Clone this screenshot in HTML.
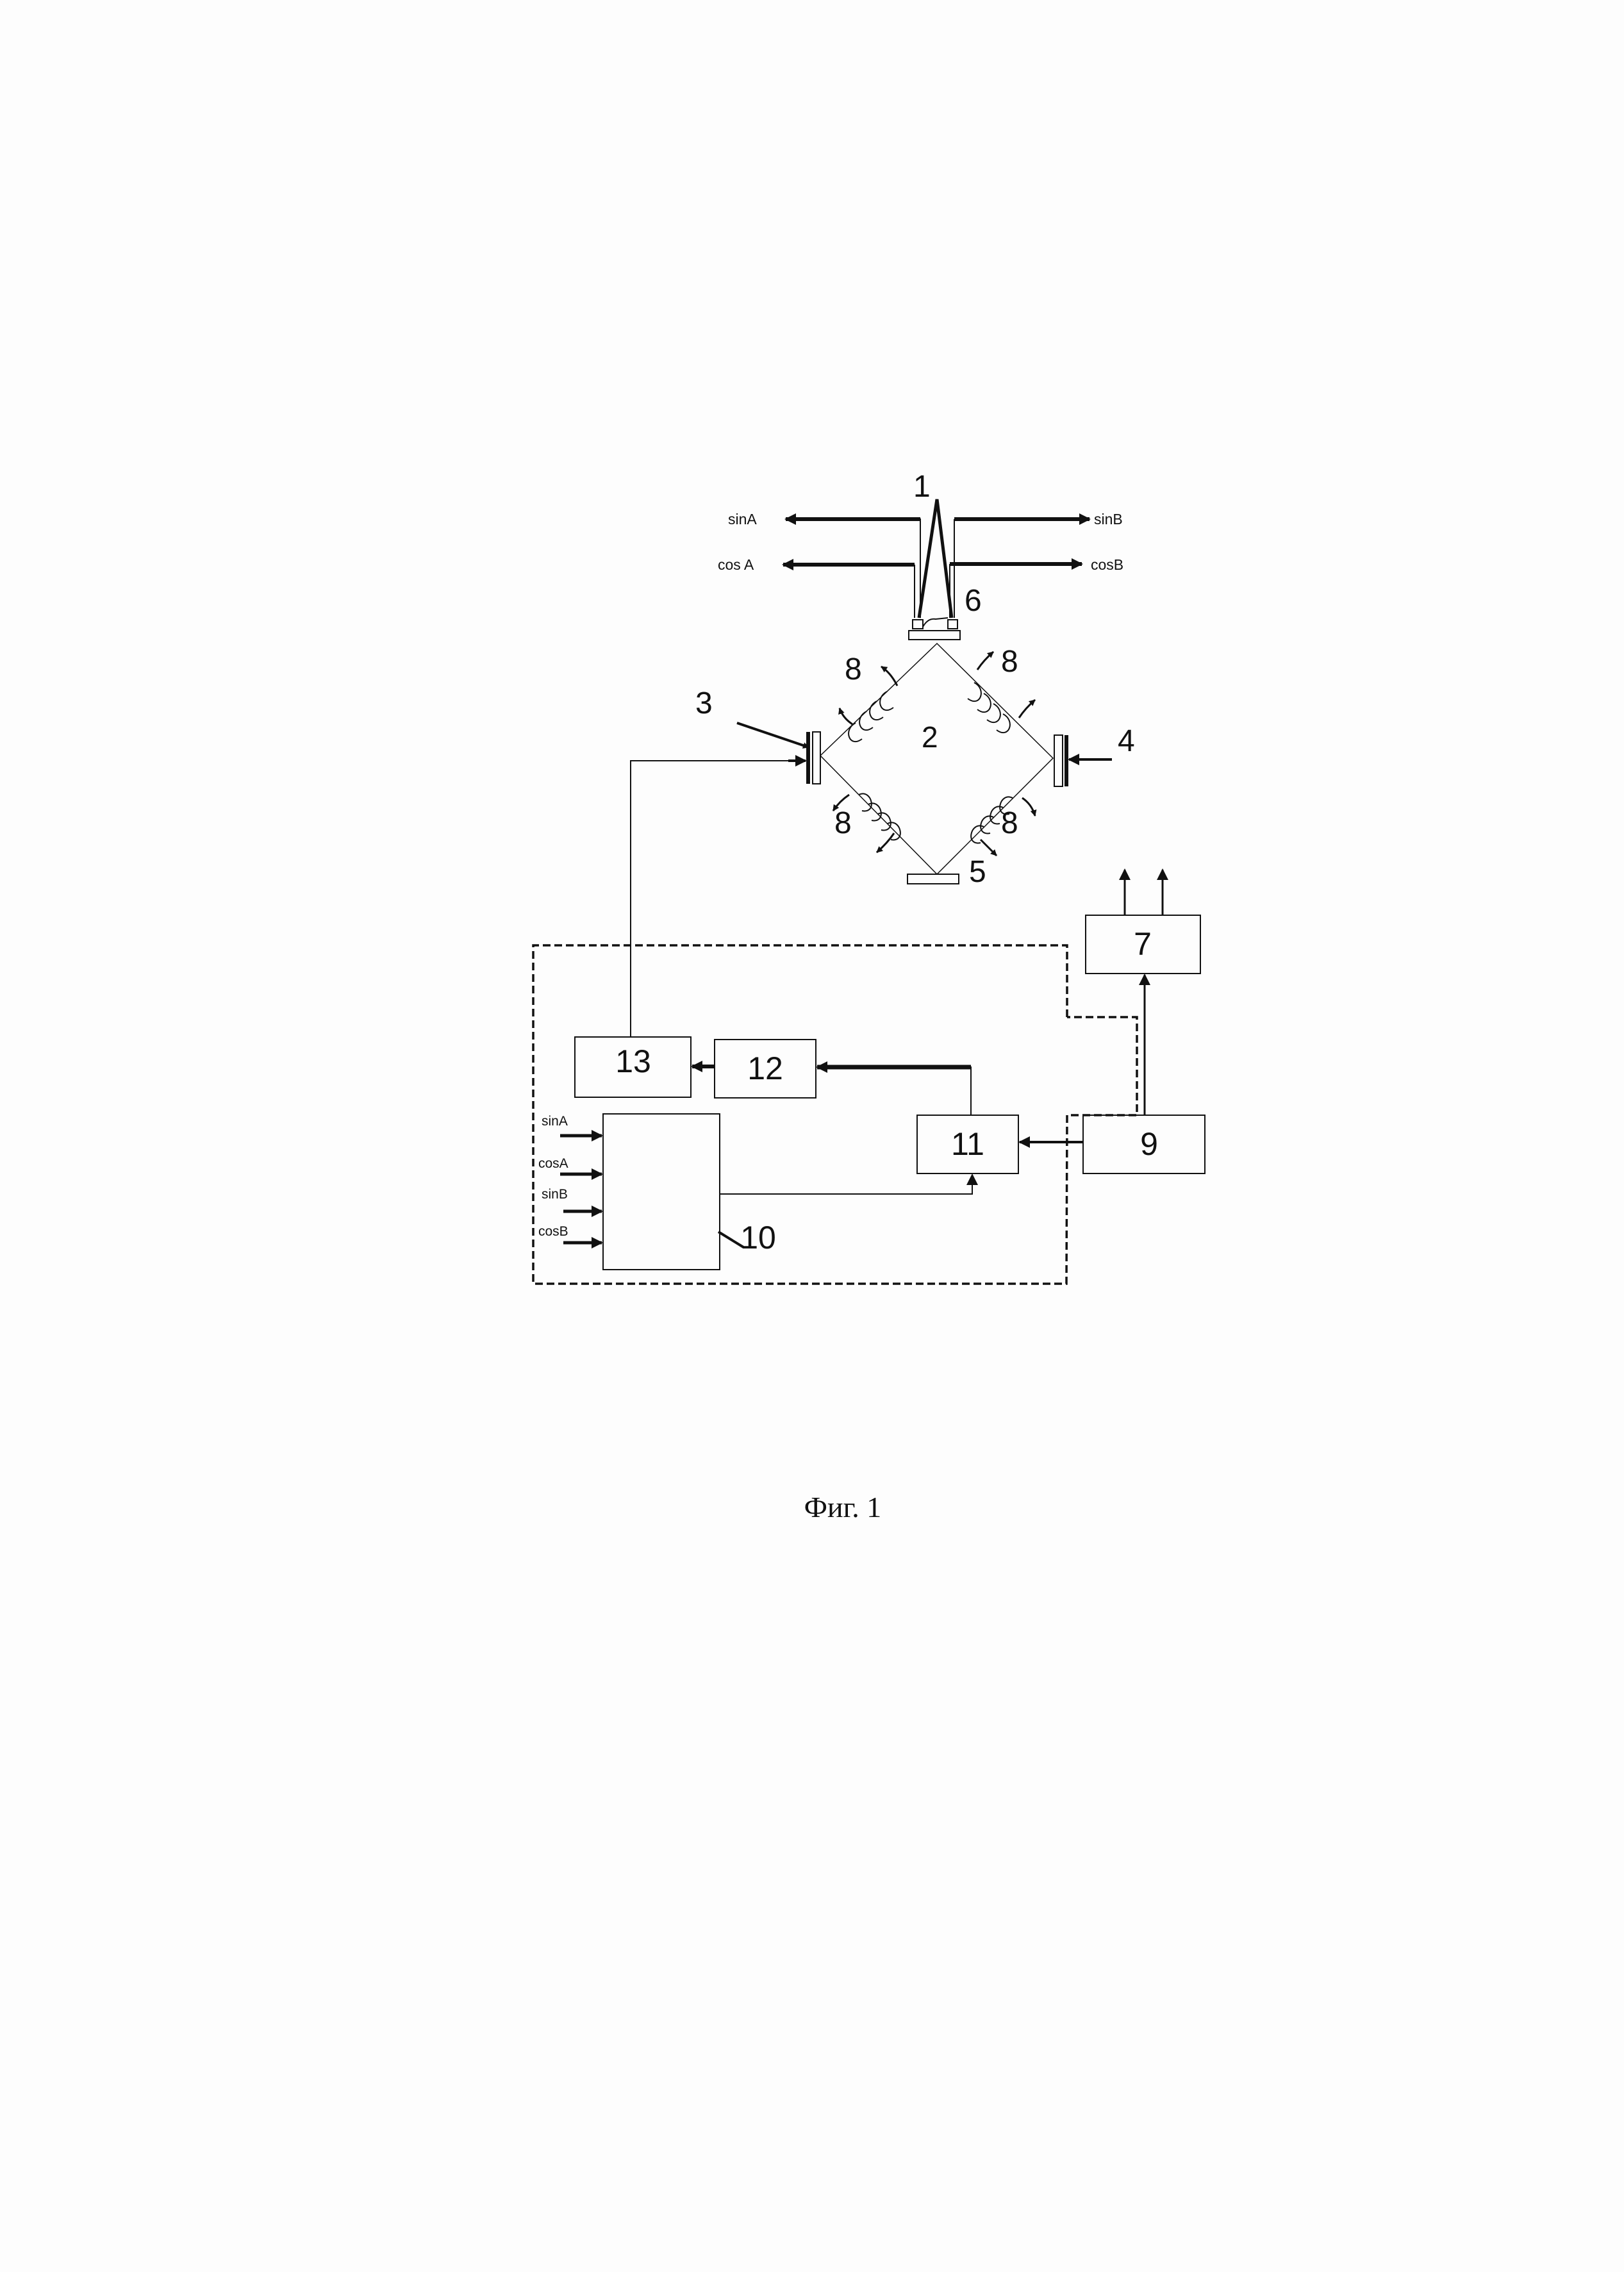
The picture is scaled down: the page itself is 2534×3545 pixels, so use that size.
<!DOCTYPE html>
<html><head><meta charset="utf-8"><style>
html,body{margin:0;padding:0;background:#fdfdfd;}
svg{display:block;}
text{font-family:"Liberation Sans","DejaVu Sans",sans-serif;fill:#111;}
</style></head><body>
<svg width="2534" height="3545" viewBox="0 0 2534 3545" xmlns="http://www.w3.org/2000/svg">
<defs>
<marker id="a" markerWidth="10" markerHeight="10" refX="9" refY="5" orient="auto" markerUnits="userSpaceOnUse" viewBox="0 0 10 10">
<path d="M0,0 L10,5 L0,10 z" fill="#111"/></marker>
<marker id="b" markerWidth="18" markerHeight="18" refX="16" refY="9" orient="auto" markerUnits="userSpaceOnUse" viewBox="0 0 18 18">
<path d="M0,0 L18,9 L0,18 z" fill="#111"/></marker>
</defs>
<g stroke="#111" fill="none">
<polyline points="1434,964 1462,779 1485,964" stroke-width="5"/>
<polyline points="1436,964 1436,810 1226,810" stroke-width="2"/>
<line x1="1436" y1="810" x2="1226" y2="810" stroke-width="6" marker-end="url(#b)"/>
<polyline points="1427,964 1427,881" stroke-width="2"/>
<line x1="1427" y1="881" x2="1222" y2="881" stroke-width="6" marker-end="url(#b)"/>
<polyline points="1489,964 1489,810" stroke-width="2"/>
<line x1="1489" y1="810" x2="1700" y2="810" stroke-width="6" marker-end="url(#b)"/>
<polyline points="1482,964 1482,880" stroke-width="2"/>
<line x1="1482" y1="880" x2="1688" y2="880" stroke-width="6" marker-end="url(#b)"/>
<rect x="1424" y="967" width="16" height="14" stroke-width="2"/>
<rect x="1479" y="967" width="15" height="14" stroke-width="2"/>
<path d="M1440,978 Q1448,964 1460,966 L1479,964" stroke-width="2"/>
<rect x="1418" y="984" width="80" height="14" stroke-width="2"/>
<polygon points="1462,1004 1280,1179 1462,1364 1643,1183" stroke-width="1.5"/>
<rect x="1268" y="1142" width="12" height="81" stroke-width="2"/>
<line x1="1261" y1="1142" x2="1261" y2="1223" stroke-width="6"/>
<rect x="1645" y="1147" width="13" height="80" stroke-width="2"/>
<line x1="1664" y1="1147" x2="1664" y2="1227" stroke-width="6"/>
<rect x="1416" y="1364" width="80" height="15" stroke-width="2"/>
<line x1="1150" y1="1128" x2="1262" y2="1166" stroke-width="4" marker-end="url(#a)"/>
<line x1="1735" y1="1185" x2="1668" y2="1185" stroke-width="4" marker-end="url(#b)"/>
<g stroke-width="2">
<path d="M1335,1128 c-20,10 -10,40 10,25 M1352,1110 c-20,10 -10,40 10,25 M1368,1094 c-20,10 -10,40 10,25 M1384,1079 c-20,10 -10,40 10,25"/>
<path d="M1520,1065 c20,10 10,40 -10,25 M1535,1082 c20,10 10,40 -10,25 M1550,1098 c20,10 10,40 -10,25 M1565,1114 c20,10 10,40 -10,25"/>
<path d="M1340,1240 c20,-10 30,30 5,25 M1355,1255 c20,-10 30,30 5,25 M1370,1270 c20,-10 30,30 5,25 M1385,1285 c20,-10 30,30 5,25"/>
<path d="M1580,1245 c-20,-10 -30,30 -5,25 M1565,1260 c-20,-10 -30,30 -5,25 M1550,1275 c-20,-10 -30,30 -5,25 M1535,1290 c-20,-10 -30,30 -5,25"/>
</g>
<g stroke-width="3">
<path d="M1400,1070 q-10,-20 -25,-30" marker-end="url(#a)"/>
<path d="M1330,1130 q-15,-10 -20,-25" marker-end="url(#a)"/>
<path d="M1525,1045 q10,-15 25,-28" marker-end="url(#a)"/>
<path d="M1590,1120 q10,-15 25,-28" marker-end="url(#a)"/>
<path d="M1325,1240 q-15,10 -25,25" marker-end="url(#a)"/>
<path d="M1395,1300 q-10,15 -27,30" marker-end="url(#a)"/>
<path d="M1595,1245 q15,10 20,28" marker-end="url(#a)"/>
<path d="M1530,1310 q10,10 25,25" marker-end="url(#a)"/>
</g>
<polyline points="1665,1587 1665,1475 832,1475 832,2003 1664,2003 1665,1740 1774,1740 1774,1587 1665,1587" stroke-width="3.5" stroke-dasharray="12,6"/>
<rect x="897" y="1618" width="181" height="94" stroke-width="2"/>
<rect x="1115" y="1622" width="158" height="91" stroke-width="2"/>
<rect x="1431" y="1740" width="158" height="91" stroke-width="2"/>
<rect x="1690" y="1740" width="190" height="91" stroke-width="2"/>
<rect x="1694" y="1428" width="179" height="91" stroke-width="2"/>
<rect x="941" y="1738" width="182" height="243" stroke-width="2"/>
<polyline points="984,1618 984,1187 1256,1187" stroke-width="2"/>
<line x1="1230" y1="1187" x2="1257" y2="1187" stroke-width="4" marker-end="url(#b)"/>
<line x1="1115" y1="1664" x2="1080" y2="1664" stroke-width="6" marker-end="url(#b)"/>
<polyline points="1515,1740 1515,1665 1300,1665" stroke-width="2"/>
<line x1="1515" y1="1665" x2="1275" y2="1665" stroke-width="7" marker-end="url(#b)"/>
<line x1="1690" y1="1782" x2="1591" y2="1782" stroke-width="4" marker-end="url(#b)"/>
<line x1="1786" y1="1740" x2="1786" y2="1521" stroke-width="3" marker-end="url(#b)"/>
<line x1="1755" y1="1428" x2="1755" y2="1357" stroke-width="3" marker-end="url(#b)"/>
<line x1="1814" y1="1428" x2="1814" y2="1357" stroke-width="3" marker-end="url(#b)"/>
<polyline points="1123,1863 1517,1863 1517,1833" stroke-width="2"/>
<line x1="1517" y1="1850" x2="1517" y2="1833" stroke-width="2" marker-end="url(#b)"/>
<line x1="874" y1="1772" x2="939" y2="1772" stroke-width="5" marker-end="url(#b)"/>
<line x1="874" y1="1832" x2="939" y2="1832" stroke-width="5" marker-end="url(#b)"/>
<line x1="879" y1="1890" x2="939" y2="1890" stroke-width="5" marker-end="url(#b)"/>
<line x1="879" y1="1939" x2="939" y2="1939" stroke-width="5" marker-end="url(#b)"/>
<line x1="1121" y1="1922" x2="1160" y2="1946" stroke-width="4"/>
</g>
<g font-size="23">
<text x="1136" y="818">sinA</text>
<text x="1120" y="889">cos A</text>
<text x="1707" y="818">sinB</text>
<text x="1702" y="889">cosB</text>
</g>
<g font-size="21">
<text x="845" y="1756">sinA</text>
<text x="840" y="1822">cosA</text>
<text x="845" y="1870">sinB</text>
<text x="840" y="1928">cosB</text>
</g>
<g font-size="48">
<text x="1425" y="775">1</text>
<text x="1505" y="953">6</text>
<text x="1438" y="1166" font-size="46">2</text>
<text x="1085" y="1113">3</text>
<text x="1744" y="1172">4</text>
<text x="1512" y="1376">5</text>
<text x="1318" y="1060">8</text>
<text x="1562" y="1048">8</text>
<text x="1302" y="1300">8</text>
<text x="1562" y="1300">8</text>
</g>
<g font-size="50" text-anchor="middle">
<text x="988" y="1673">13</text>
<text x="1194" y="1684">12</text>
<text x="1510" y="1802">11</text>
<text x="1793" y="1802">9</text>
<text x="1783" y="1490">7</text>
<text x="1183" y="1948">10</text>
</g>
<text x="1315" y="2367" font-size="46" text-anchor="middle" style="font-family:'Liberation Serif',serif">Фиг. 1</text>
</svg>
</body></html>
